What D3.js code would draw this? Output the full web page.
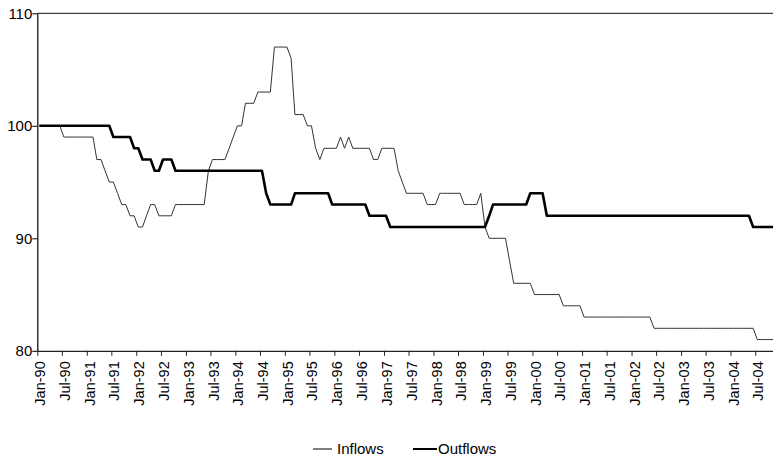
<!DOCTYPE html>
<html>
<head>
<meta charset="utf-8">
<script src="https://cdn.jsdelivr.net/npm/d3@7"></script>
<style>
    body { margin: 0; background: #fff; }
    svg { display: block; }
</style>
</head>
<body>
<svg id="chart" width="773" height="457"></svg>
<script>
// monthly index values, Jan-90 .. Dec-04 (12 per row)
const inflows = [
    100, 100, 100, 100, 100, 100, 99, 99, 99, 99, 99, 99,
    99, 99, 97, 97, 96, 95, 95, 94, 93, 93, 92, 92,
    91, 91, 92, 93, 93, 92, 92, 92, 92, 93, 93, 93,
    93, 93, 93, 93, 93, 96, 97, 97, 97, 97, 98, 99,
    100, 100, 102, 102, 102, 103, 103, 103, 103, 107, 107, 107,
    107, 106, 101, 101, 101, 100, 100, 98, 97, 98, 98, 98,
    98, 99, 98, 99, 98, 98, 98, 98, 98, 97, 97, 98,
    98, 98, 98, 96, 95, 94, 94, 94, 94, 94, 93, 93,
    93, 94, 94, 94, 94, 94, 94, 93, 93, 93, 93, 94,
    91, 90, 90, 90, 90, 90, 88, 86, 86, 86, 86, 86,
    85, 85, 85, 85, 85, 85, 85, 84, 84, 84, 84, 84,
    83, 83, 83, 83, 83, 83, 83, 83, 83, 83, 83, 83,
    83, 83, 83, 83, 83, 82, 82, 82, 82, 82, 82, 82,
    82, 82, 82, 82, 82, 82, 82, 82, 82, 82, 82, 82,
    82, 82, 82, 82, 82, 82, 81, 81, 81, 81, 81, 81
];

const outflows = [
    100, 100, 100, 100, 100, 100, 100, 100, 100, 100, 100, 100,
    100, 100, 100, 100, 100, 100, 99, 99, 99, 99, 99, 98,
    98, 97, 97, 97, 96, 96, 97, 97, 97, 96, 96, 96,
    96, 96, 96, 96, 96, 96, 96, 96, 96, 96, 96, 96,
    96, 96, 96, 96, 96, 96, 96, 94, 93, 93, 93, 93,
    93, 93, 94, 94, 94, 94, 94, 94, 94, 94, 94, 93,
    93, 93, 93, 93, 93, 93, 93, 93, 92, 92, 92, 92,
    92, 91, 91, 91, 91, 91, 91, 91, 91, 91, 91, 91,
    91, 91, 91, 91, 91, 91, 91, 91, 91, 91, 91, 91,
    91, 92, 93, 93, 93, 93, 93, 93, 93, 93, 93, 94,
    94, 94, 94, 92, 92, 92, 92, 92, 92, 92, 92, 92,
    92, 92, 92, 92, 92, 92, 92, 92, 92, 92, 92, 92,
    92, 92, 92, 92, 92, 92, 92, 92, 92, 92, 92, 92,
    92, 92, 92, 92, 92, 92, 92, 92, 92, 92, 92, 92,
    92, 92, 92, 92, 92, 91, 91, 91, 91, 91, 91, 91
];

const tickLabels = [
    "Jan-90", "Jul-90", "Jan-91", "Jul-91", "Jan-92", "Jul-92", "Jan-93", "Jul-93",
    "Jan-94", "Jul-94", "Jan-95", "Jul-95", "Jan-96", "Jul-96", "Jan-97", "Jul-97",
    "Jan-98", "Jul-98", "Jan-99", "Jul-99", "Jan-00", "Jul-00", "Jan-01", "Jul-01",
    "Jan-02", "Jul-02", "Jan-03", "Jul-03", "Jan-04", "Jul-04"
];

const yTicks = [80, 90, 100, 110];
const seriesNames = ["Inflows", "Outflows"];

function drawChart() {
    const svg = d3.select("#chart");
    const font = "'Liberation Sans', Arial, sans-serif";
    const left = 37.3, top = 13.3, bottom = 350.8, right = 773;

    const parseLabel = d3.timeParse("%b-%y");
    const months = d3.timeMonth.range(new Date(1990, 0, 1), new Date(2005, 0, 1));

    // Excel-style category axis: ticks on month boundaries, points mid-month
    const x = d3.scaleTime()
        .domain([new Date(1990, 0, 1), new Date(2005, 0, 1)])
        .range([left, left + 180 * 4.127]);
    const y = d3.scaleLinear().domain([80, 110]).range([bottom, top]);

    const midMonth = m => d3.timeDay.offset(m, 15);

    // top border of plot area
    svg.append("line")
        .attr("x1", left).attr("x2", right)
        .attr("y1", top).attr("y2", top)
        .attr("stroke", "#111")
        .attr("stroke-width", 1);

    const line = d3.line()
        .x((d, i) => x(midMonth(months[i])))
        .y(d => y(d));

    svg.append("path")
        .datum(inflows)
        .attr("fill", "none")
        .attr("stroke", "#333")
        .attr("stroke-width", 1)
        .attr("d", line);

    svg.append("path")
        .datum(outflows)
        .attr("fill", "none")
        .attr("stroke", "#000")
        .attr("stroke-width", 2.6)
        .attr("stroke-linejoin", "round")
        .attr("d", line);

    // y axis
    const yAxis = svg.append("g")
        .attr("transform", `translate(${left},0)`)
        .call(d3.axisLeft(y).tickValues(yTicks).tickSize(5).tickSizeOuter(0).tickPadding(0));
    yAxis.select(".domain").attr("stroke", "#000").attr("stroke-width", 1.2);
    yAxis.selectAll(".tick line").attr("stroke", "#000");
    yAxis.selectAll("text")
        .style("font-size", "15px")
        .style("font-family", font)
        .attr("fill", "#000");

    // x axis
    const xAxis = svg.append("g")
        .attr("transform", `translate(0,${bottom})`)
        .call(d3.axisBottom(x)
            .tickValues(tickLabels.map(parseLabel))
            .tickFormat(d3.timeFormat("%b-%y"))
            .tickSize(5)
            .tickSizeOuter(0));
    xAxis.select(".domain")
        .attr("d", `M${left},0.5H${right}`)
        .attr("stroke", "#222")
        .attr("stroke-width", 1.3);
    xAxis.selectAll(".tick line").attr("stroke", "#222");
    xAxis.selectAll("text")
        .style("font-size", "14.5px")
        .style("font-family", font)
        .attr("fill", "#000")
        .attr("text-anchor", "end")
        .attr("transform", "translate(2.5,10.5) rotate(-90)")
        .attr("x", 0)
        .attr("y", 0)
        .attr("dy", "0.35em");

    // legend
    const legend = svg.append("g")
        .attr("font-family", font)
        .attr("font-size", "15px")
        .selectAll("g")
        .data(seriesNames)
        .join("g")
        .attr("transform", (d, i) => `translate(${i === 0 ? 313 : 413},449)`);

    legend.append("line")
        .attr("x1", 0)
        .attr("x2", (d, i) => i === 0 ? 19 : 24)
        .attr("stroke", "#000")
        .attr("stroke-width", (d, i) => i === 0 ? 1 : 2);

    legend.append("text")
        .attr("x", (d, i) => i === 0 ? 24 : 25)
        .attr("dy", "0.35em")
        .attr("fill", "#000")
        .text(d => d);
}

drawChart();
</script>
</body>
</html>
